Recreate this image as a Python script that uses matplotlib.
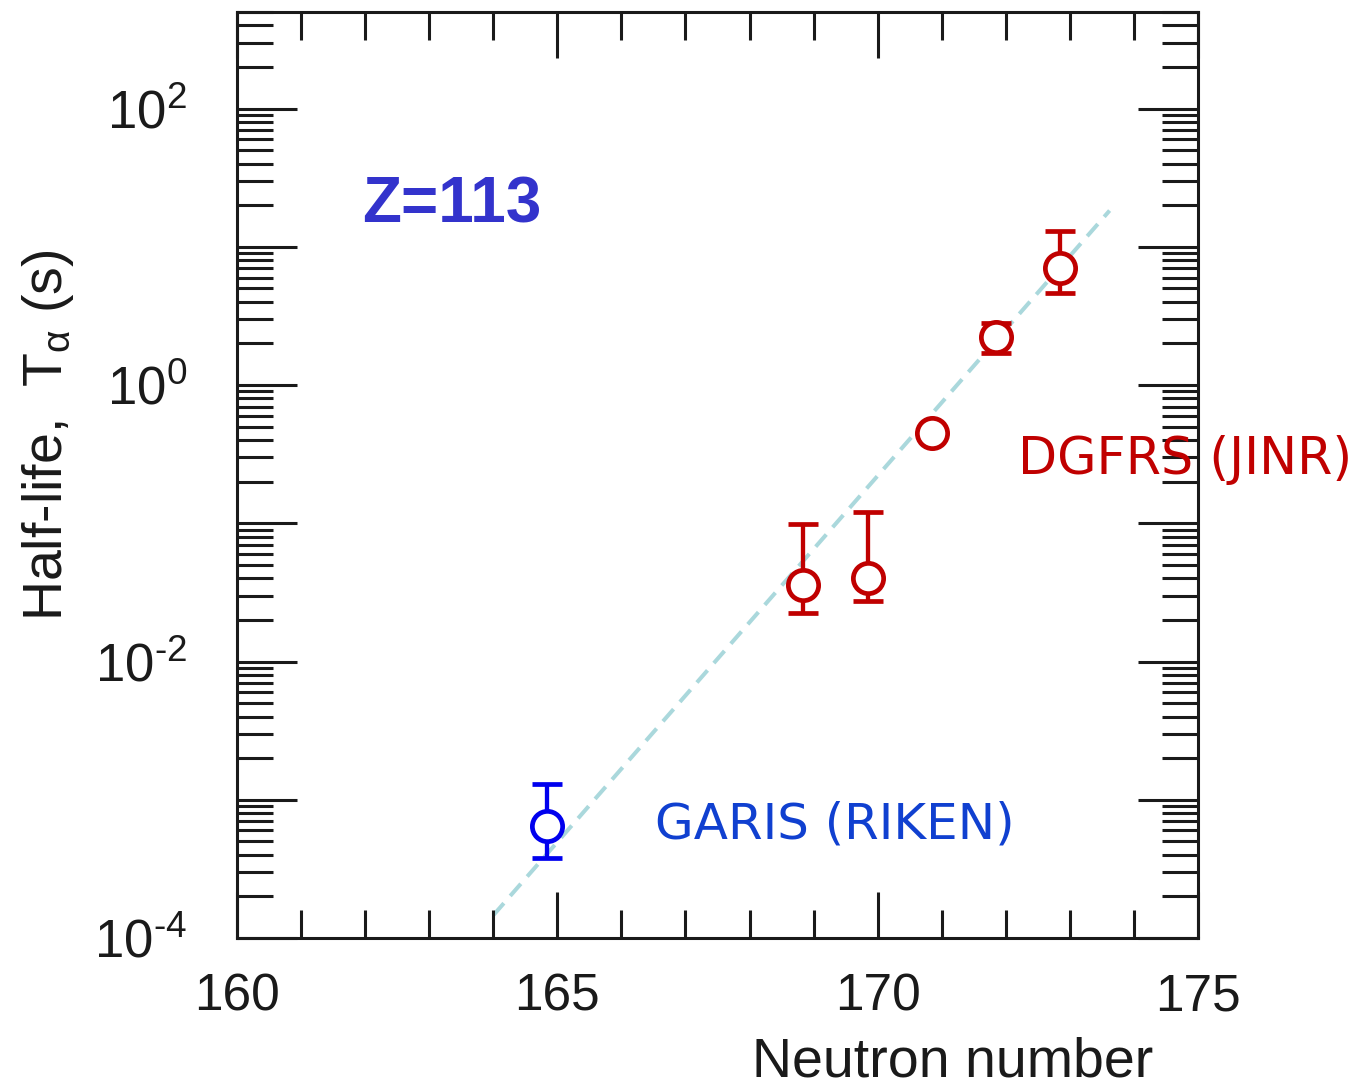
import numpy as np
import matplotlib
matplotlib.use('Agg')
import matplotlib.pyplot as plt
from matplotlib.ticker import FixedLocator, LogLocator, NullFormatter

plt.rcParams['font.family'] = ['Liberation Sans', 'DejaVu Sans']
plt.rcParams['mathtext.fontset'] = 'custom'
plt.rcParams['mathtext.rm'] = 'Liberation Sans'
plt.rcParams['mathtext.it'] = 'Liberation Sans'

# GARIS (RIKEN) measurement
riken_n = [164.84]
riken_t = [6.5e-4]
riken_lo = [3.8e-4]
riken_hi = [1.31e-3]

# DGFRS (JINR) measurements (lo == hi == t -> no error bar)
jinr_n = [168.84, 169.85, 170.85, 171.84, 172.85]
jinr_t = [0.036, 0.0405, 0.453, 2.21, 7.08]
jinr_lo = [0.0226, 0.0272, 0.453, 1.72, 4.67]
jinr_hi = [0.0995, 0.12, 0.453, 2.79, 13.1]

# systematics trend line (end points)
trend_n = [164.0, 173.62]
trend_t = [1.46e-4, 18.3]

x_ticks = [160, 165, 170, 175]
x_labels = ['160', '165', '170', '175']
y_decades = [1e-4, 1e-3, 1e-2, 1e-1, 1e0, 1e1, 1e2]
y_labels = [r'$10^{\text{-}4}$', '', r'$10^{\text{-}2}$', '', r'$10^{0}$', '', r'$10^{2}$']

BLUE = '#0000ee'
RED = '#c00000'
INK = '#1a1a1a'

fig = plt.figure(figsize=(13.58, 10.9), dpi=100)
ax = fig.add_axes([0.1745, 0.1394, 0.7077, 0.8496])

ax.plot(trend_n, trend_t, color='#aad8dc', lw=2.9, ls=(0, (4.0, 2.4)), zorder=1)

def draw_points(n, t, lo, hi, color):
    t = np.array(t)
    yerr = [t - np.array(lo), np.array(hi) - t]
    ax.errorbar(n, t, yerr=yerr, fmt='o', ms=21.8, mfc='white', mec=color,
                mew=3.4, color=color, elinewidth=3.1, capsize=11, capthick=4.8,
                zorder=3)

draw_points(riken_n, riken_t, riken_lo, riken_hi, BLUE)
draw_points(jinr_n, jinr_t, jinr_lo, jinr_hi, RED)

ax.set_yscale('log')
ax.set_xlim(160, 175)
ax.set_ylim(1e-4, 500)

ax.set_xticks(x_ticks, x_labels)
ax.xaxis.set_minor_locator(FixedLocator(np.arange(160, 176, 1)))
ax.yaxis.set_major_locator(FixedLocator(y_decades))
ax.set_yticklabels(y_labels)
ax.yaxis.set_minor_locator(LogLocator(base=10, subs=np.arange(2, 10), numticks=30))
ax.yaxis.set_minor_formatter(NullFormatter())

for sp in ax.spines.values():
    sp.set_linewidth(2.2)
    sp.set_color(INK)

ax.tick_params(axis='both', which='both', direction='in', top=True, right=True,
               width=2.2, color=INK, labelcolor=INK)
ax.tick_params(axis='x', which='major', length=33, labelsize=37, pad=25)
ax.tick_params(axis='x', which='minor', length=20)
ax.tick_params(axis='y', which='major', length=43, labelsize=38, pad=36)
ax.tick_params(axis='y', which='minor', length=26)

ax.set_xlabel('Neutron number', fontsize=40, color=INK)
ax.xaxis.set_label_coords(0.745, -0.106)
ax.set_ylabel(r'Half-life,  T$_{\alpha}$ (s)', fontsize=40, color=INK)
ax.yaxis.set_label_coords(-0.168, 0.543)

ax.text(161.95, 15.0, 'Z=113', color='#3333cc', fontsize=46, fontweight='bold',
        ha='left', va='baseline')
ax.text(166.52, 5.25e-4, 'GARIS (RIKEN)', color='#1040d0', fontsize=36,
        family='DejaVu Sans', ha='left', va='baseline')
ax.text(172.19, 0.229, 'DGFRS (JINR)', color=RED, fontsize=36.5,
        family='DejaVu Sans', ha='left', va='baseline')

fig.savefig('out.png', dpi=100, facecolor='white')
